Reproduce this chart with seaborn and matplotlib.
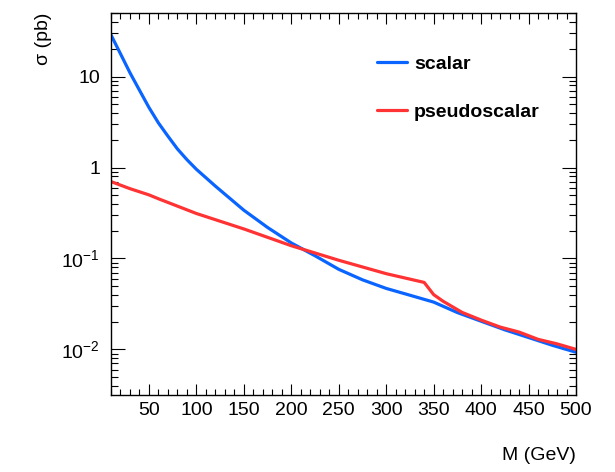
import matplotlib
matplotlib.use("Agg")
import matplotlib.pyplot as plt
import matplotlib.ticker as mticker
import numpy as np
import pandas as pd
import seaborn as sns

# Mass points (GeV) and cross sections (pb)
mass_scalar = [10, 20, 30, 40, 50, 60, 70, 80, 90, 100, 120, 150, 175, 200,
               225, 250, 275, 300, 325, 350, 375, 400, 425, 450, 475, 500]
xsec_scalar = [28.7, 17.8, 11.0, 7.08, 4.57, 3.09, 2.21, 1.60, 1.22, 0.955,
               0.624, 0.339, 0.219, 0.148, 0.107, 0.0759, 0.0582, 0.0468,
               0.0394, 0.0331, 0.0254, 0.0204, 0.0164, 0.0135, 0.0111, 0.0093]

mass_pseudo = [10, 20, 30, 50, 60, 80, 100, 150, 200, 250, 300, 340, 350, 360,
               380, 400, 420, 440, 460, 480, 500]
xsec_pseudo = [0.70, 0.64, 0.585, 0.50, 0.453, 0.376, 0.312, 0.211, 0.138,
               0.0955, 0.068, 0.0545, 0.040, 0.0338, 0.0255, 0.021, 0.0176,
               0.0155, 0.0129, 0.0115, 0.0100]

labels = ["scalar", "pseudoscalar"]
colors = ["#0a64ff", "#ff3333"]

y_ticks = [1e-2, 1e-1, 1, 10]
y_tick_labels = ["$10^{-2}$", "$10^{-1}$", "1", "10"]
x_ticks = [50, 100, 150, 200, 250, 300, 350, 400, 450, 500]

df = pd.concat([
    pd.DataFrame({"M": mass_scalar, "xsec": xsec_scalar, "model": labels[0]}),
    pd.DataFrame({"M": mass_pseudo, "xsec": xsec_pseudo, "model": labels[1]}),
])

sns.set_style("ticks")
plt.rcParams["font.family"] = ["Liberation Sans", "DejaVu Sans"]
plt.rcParams["mathtext.fontset"] = "custom"
plt.rcParams["mathtext.rm"] = "Liberation Sans"
plt.rcParams["mathtext.it"] = "Liberation Sans:italic"
plt.rcParams["mathtext.bf"] = "Liberation Sans:bold"
for key in ["text.color", "axes.labelcolor", "xtick.color", "ytick.color",
            "axes.edgecolor"]:
    plt.rcParams[key] = "black"

fig = plt.figure(figsize=(6.15, 4.72), dpi=100)
W, H = 615, 472
ax = fig.add_axes([111 / W, 1 - 395 / H, 465 / W, 382 / H])

sns.lineplot(data=df, x="M", y="xsec", hue="model", hue_order=labels,
             palette=colors, linewidth=2.3, ax=ax, legend=True)

ax.set_yscale("log")
ax.set_xlim(10, 500)
ax.set_ylim(0.00315, 50)

ax.xaxis.set_major_locator(mticker.FixedLocator(x_ticks))
ax.xaxis.set_minor_locator(mticker.MultipleLocator(10))
ax.yaxis.set_major_locator(mticker.FixedLocator(y_ticks))
ax.yaxis.set_major_formatter(mticker.FixedFormatter(y_tick_labels))
ax.yaxis.set_minor_locator(mticker.LogLocator(base=10, subs=np.arange(2, 10)))
ax.yaxis.set_minor_formatter(mticker.NullFormatter())

for s in ax.spines.values():
    s.set_visible(True)
    s.set_linewidth(1.0)
    s.set_color("black")

ax.tick_params(axis="both", which="both", direction="in", top=True, right=True,
               width=0.8, color="black", labelcolor="black", labelsize=14)
ax.tick_params(axis="x", which="major", length=8, pad=5)
ax.tick_params(axis="x", which="minor", length=4)
ax.tick_params(axis="y", which="major", length=10, pad=8)
ax.tick_params(axis="y", which="minor", length=5)

ax.set_xlabel("M (GeV)", fontsize=14, loc="right")
ax.xaxis.set_label_coords(1.0, -0.137)
ax.set_ylabel("σ (pb)", fontsize=14, loc="top")
ax.yaxis.set_label_coords(-0.127, 1.0)

leg = ax.legend(loc="upper left", bbox_to_anchor=(0.572, 0.89), frameon=False,
                borderpad=0, borderaxespad=0, handlelength=1.55,
                handletextpad=0.35, labelspacing=1.56,
                prop={"weight": "bold", "size": 14})
for t in leg.get_texts():
    t.set_color("black")

fig.savefig("out.png", dpi=100)
